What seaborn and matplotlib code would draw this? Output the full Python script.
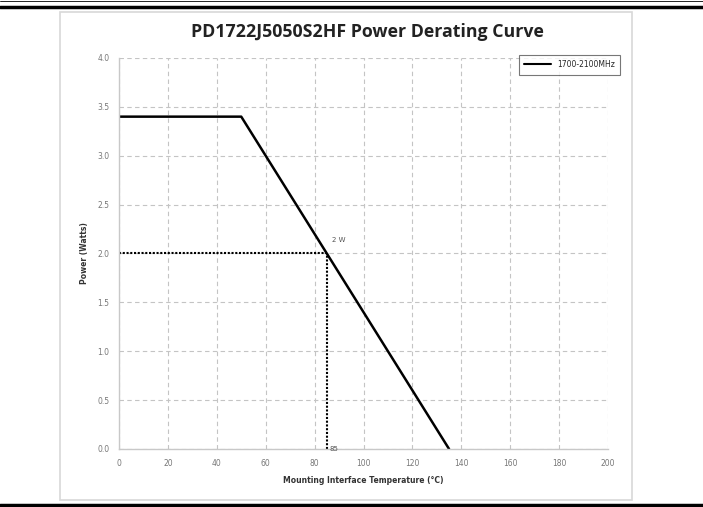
import pandas as pd
import matplotlib.pyplot as plt
import seaborn as sns
from matplotlib.lines import Line2D
from matplotlib.patches import Rectangle

# derating curve data
temps = [0, 50, 135]
power = [3.4, 3.4, 0.0]
series_name = '1700-2100MHz'

# marker point (2 W at 85 C)
mark_temp = 85
mark_power = 2.0

xticks = [0, 20, 40, 60, 80, 100, 120, 140, 160, 180, 200]
yticks = [0.0, 0.5, 1.0, 1.5, 2.0, 2.5, 3.0, 3.5, 4.0]

df = pd.DataFrame({'temp': temps, 'power': power, 'series': series_name})

sns.set_style('white')
plt.rcParams['font.family'] = ['DejaVu Sans']

fig = plt.figure(figsize=(7.03, 5.07), dpi=100)

# page rules and chart frame
fig.add_artist(Line2D([0, 1], [0.998, 0.998], color='black', lw=0.6))
fig.add_artist(Line2D([0, 1], [0.986, 0.986], color='black', lw=2.5))
fig.add_artist(Line2D([0, 1], [0.004, 0.004], color='black', lw=2.5))
fig.add_artist(Rectangle((60 / 703, 1 - 500 / 507), 572 / 703, 488 / 507,
                         fill=False, edgecolor='#d8d8d8', lw=1.2))

ax = fig.add_axes([119 / 703, 1 - 449 / 507, 489 / 703, 391 / 507])

sns.lineplot(data=df, x='temp', y='power', hue='series', palette=['black'],
             linewidth=1.8, ax=ax, legend=False)

# dotted guides to the 2 W point
ax.plot([0, mark_temp], [mark_power, mark_power], color='black', lw=1.5,
        ls=(0, (1, 0.8)))
ax.plot([mark_temp, mark_temp], [0, mark_power], color='black', lw=1.5,
        ls=(0, (1, 0.8)))
ax.text(mark_temp + 2, mark_power + 0.12, '2 W', fontsize=5, color='#555555')
ax.text(mark_temp + 1, 0.0, '85', fontsize=5, color='#555555', va='center')

ax.set_xlim(0, 200)
ax.set_ylim(0, 4.0)
ax.set_xticks(xticks)
ax.set_yticks(yticks)
ax.set_yticklabels([f'{v:.1f}' for v in yticks])
ax.tick_params(labelsize=5.5, labelcolor='#777777', length=0, pad=7)
ax.grid(True, linestyle=(0, (4, 3)), color='#c4c4c4', lw=0.8)
for s in ['top', 'right']:
    ax.spines[s].set_visible(False)
for s in ['left', 'bottom']:
    ax.spines[s].set_color('#c8c8c8')
    ax.spines[s].set_linewidth(1.0)

ax.set_xlabel('Mounting Interface Temperature (\u00b0C)', fontsize=5.5,
              fontweight='bold', color='#333333', labelpad=6)
ax.set_ylabel('Power (Watts)', fontsize=5.5, fontweight='bold', color='#333333',
              labelpad=6)

fig.text(0.522, 0.937, 'PD1722J5050S2HF Power Derating Curve', ha='center',
         va='center', fontsize=12.8, fontweight='bold', color='#222222',
         family='Open Sans')

handle = Line2D([], [], color='black', lw=1.5)
leg = fig.legend([handle], [series_name], loc='upper right',
                 bbox_to_anchor=(624 / 703, 1 - 51 / 507), fontsize=5.5,
                 frameon=True, fancybox=False, edgecolor='#555555',
                 handlelength=3.5, borderpad=0.7)
leg.get_frame().set_linewidth(0.8)

fig.savefig('out.png', dpi=100)
